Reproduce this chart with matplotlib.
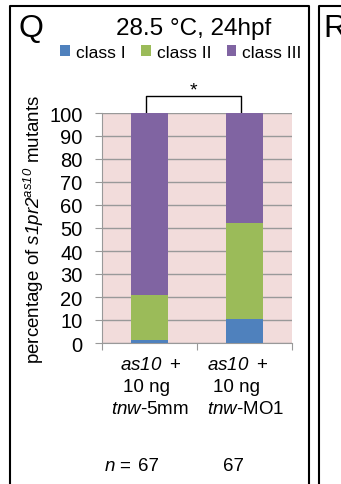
import matplotlib
matplotlib.use("Agg")
import matplotlib.pyplot as plt
from matplotlib.lines import Line2D
import numpy as np

plt.rcParams['font.family'] = ['Liberation Sans', 'DejaVu Sans']
# everything inside $...$ is set in italic (gene / allele names)
plt.rcParams['mathtext.fontset'] = 'custom'
plt.rcParams['mathtext.rm'] = 'Liberation Sans:italic'
plt.rcParams['mathtext.it'] = 'Liberation Sans:italic'

# data (percent of mutants, n = 67 each)
groups = ["tnw-5mm", "tnw-MO1"]
class_names = ["class I", "class II", "class III"]
class_1 = [1.5, 10.4]
class_2 = [19.4, 41.8]
class_3 = [79.1, 47.8]
n_values = [67, 67]
colors = ["#4F81BD", "#9BBB59", "#8064A2"]

W, H = 341, 485
fig = plt.figure(figsize=(W / 100, H / 100), dpi=100)


def px(x, y):
    return x / W, 1 - y / H


# axes in pixel box
l, r, t, b = 102, 292, 114, 344
ax = fig.add_axes([l / W, 1 - b / H, (r - l) / W, (b - t) / H])
ax.set_facecolor("#F2DCDB")

x = np.arange(len(groups))
bottom = np.zeros(len(groups))
handles = []
for vals, c, name in zip([class_1, class_2, class_3], colors, class_names):
    h = ax.bar(x, vals, width=0.39, bottom=bottom, color=c, label=name, zorder=3)
    handles.append(h)
    bottom += np.array(vals)

ax.set_xlim(-0.5, 1.5)
ax.set_ylim(0, 100)
ax.set_yticks(range(0, 101, 10))
ax.yaxis.grid(True, color="#999999", linewidth=1, zorder=1)
ax.set_axisbelow(True)
ax.set_xticks([-0.5, 0.5, 1.5])
ax.set_xticklabels([])
ax.tick_params(axis="x", length=5, color="#999999", direction="out")
ax.tick_params(axis="y", length=5, color="#999999", labelsize=14.5, pad=9)
for s in ["top", "right"]:
    ax.spines[s].set_visible(False)
for s in ["left", "bottom"]:
    ax.spines[s].set_color("#999999")

ax.set_ylabel(r"percentage of $s1pr2^{as10}$ mutants", fontsize=13.5, labelpad=2)

# x labels (three lines per group), nudged like the original
lines = [
    [r"$as10\:\ $+", "10 ng", r"$tnw$-5mm"],
    [r"$as10\:\ $+", "10 ng", r"$tnw$-MO1"],
]
nudges = [[1, -2, 0], [-5, -6, 1]]
for i, lab in enumerate(lines):
    for j, s in enumerate(lab):
        ax.annotate(s, xy=(x[i], 0), xycoords=("data", "axes fraction"),
                    xytext=(nudges[i][j], -9 - j * 16), textcoords="offset points",
                    ha="center", va="top", fontsize=13.5)
n_nudge = [-1, -8]
for i, n in enumerate(n_values):
    ax.annotate(str(n), xy=(x[i], 0), xycoords=("data", "axes fraction"),
                xytext=(n_nudge[i], -82), textcoords="offset points",
                ha="center", va="top", fontsize=13.5)
ax.annotate(r"$n$ =", xy=(x[0], 0), xycoords=("data", "axes fraction"),
            xytext=(-13, -82), textcoords="offset points",
            ha="right", va="top", fontsize=13.5)

# significance bracket
ax.plot([x[0] - 0.04, x[0] - 0.04, x[1] - 0.04, x[1] - 0.04], [100, 107.5, 107.5, 100],
        color="black", linewidth=1, clip_on=False)
ax.text((x[0] + x[1]) / 2 - 0.04, 106.5, "*", ha="center", va="bottom", fontsize=14)

# legend
fig.legend(handles=handles, labels=class_names, loc="center",
           bbox_to_anchor=(px(181, 53)), ncol=3, frameon=False, fontsize=12.5,
           handlelength=0.55, handleheight=0.55, handletextpad=0.35,
           columnspacing=0.9, borderaxespad=0)

# panel letter and title
fig.text(*px(18, 29), "Q", fontsize=23, ha="left", va="center")
fig.text(*px(194, 29), "28.5 °C, 24hpf", fontsize=17.5, ha="center", va="center")

# panel frames
fig.add_artist(Line2D([10 / W, 10 / W, 309 / W, 309 / W],
                      [0, 1 - 7 / H, 1 - 7 / H, 0], color="black", linewidth=1.5))
fig.add_artist(Line2D([319 / W, 319 / W, 1], [0, 1 - 7 / H, 1 - 7 / H],
                      color="black", linewidth=1.5))
fig.text(*px(323, 29), "R", fontsize=23, ha="left", va="center")

fig.savefig("out.png", dpi=100)
